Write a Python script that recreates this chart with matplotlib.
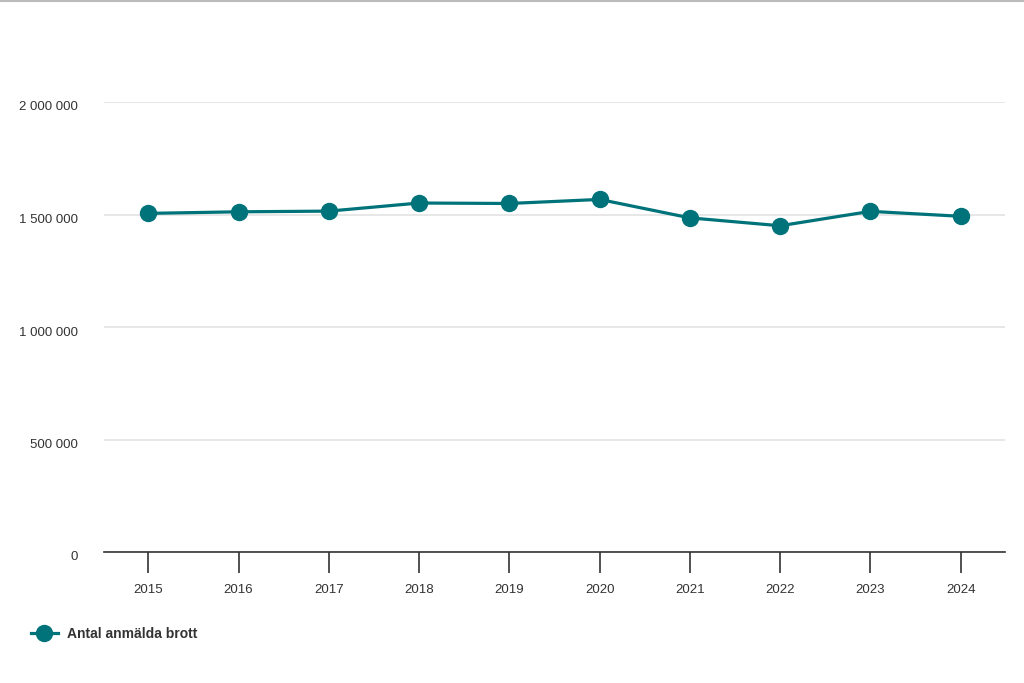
import matplotlib
matplotlib.use("Agg")
import matplotlib.pyplot as plt
import matplotlib.transforms as mtransforms
from matplotlib.lines import Line2D
from matplotlib.ticker import FuncFormatter

# Antal anmälda brott per år
years = [2015, 2016, 2017, 2018, 2019, 2020, 2021, 2022, 2023, 2024]
reported = [1505000, 1512000, 1515000, 1551000, 1549000, 1567000,
            1485000, 1450000, 1514000, 1492000]
y_ticks = [0, 500000, 1000000, 1500000, 2000000]
series_name = "Antal anmälda brott"

teal = "#00737a"
plt.rcParams['font.family'] = ['Liberation Sans', 'DejaVu Sans']

fig = plt.figure(figsize=(10.24, 6.83), dpi=100)
ax = fig.add_axes([104 / 1024, 131 / 683, 901 / 1024, 450 / 683])

ax.plot(years, reported, color=teal, linewidth=2.3, marker="o",
        markersize=11.5, zorder=3, clip_on=False)

ax.set_xlim(2014.51, 2024.49)
ax.set_ylim(0, 2000000)
ax.set_xticks(years)
ax.set_yticks(y_ticks)
ax.yaxis.set_major_formatter(FuncFormatter(lambda v, p: f"{int(v):,}".replace(",", " ")))

ax.grid(axis="y", color="#e3e3e3", linewidth=1.2)
ax.set_axisbelow(True)
for s in ["top", "right", "left"]:
    ax.spines[s].set_visible(False)
ax.spines["bottom"].set_color("#333333")
ax.spines["bottom"].set_linewidth(1.2)

ax.tick_params(axis="x", length=15, width=1.2, color="#333333",
               labelsize=9.5, labelcolor="#333333", pad=8)
ax.tick_params(axis="y", length=0, labelsize=9.5, labelcolor="#333333", pad=19)

# y labels sit a little below their grid lines
offset = mtransforms.ScaledTranslation(0, -4 / 100, fig.dpi_scale_trans)
for lab in ax.get_yticklabels():
    lab.set_transform(lab.get_transform() + offset)

# legend at bottom left
handle = Line2D([0], [0], color=teal, linewidth=2.3, marker="o", markersize=11.5)
leg = fig.legend([handle], [series_name], loc="lower left",
                 bbox_to_anchor=(18 / 1024, 30 / 683), frameon=False,
                 handlelength=2.0, handletextpad=0.6,
                 prop={"weight": "bold", "size": 10})
for t in leg.get_texts():
    t.set_color("#333333")

# thin gray line at the very top of the image
fig.add_artist(Line2D([0, 1], [0.999, 0.999], color="#bbbbbb", linewidth=1.5))

fig.savefig("out.png", dpi=100)
